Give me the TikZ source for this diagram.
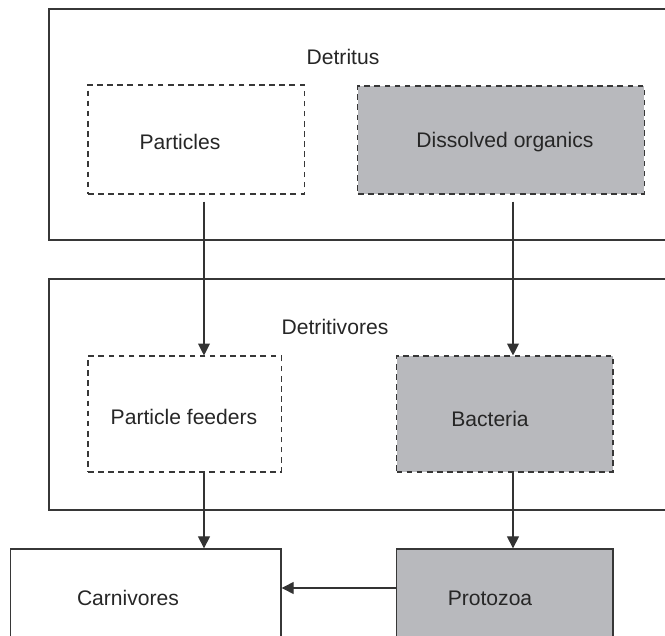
\documentclass[tikz,border=0pt]{standalone}
\usepackage{fontspec}
\setmainfont{Liberation Sans}
\usetikzlibrary{arrows.meta, positioning}
\definecolor{boxgray}{RGB}{184,185,189}
\definecolor{edgegray}{RGB}{55,55,55}

\tikzset{
    groupbox/.style={draw=edgegray, line width=0.9pt, inner sep=0pt},
    dashbox/.style={draw=edgegray, line width=0.75pt, dash pattern=on 4pt off 3.2pt, inner sep=0pt},
    shadebox/.style={dashbox, fill=boxgray},
    solidbox/.style={draw=edgegray, line width=0.9pt, inner sep=0pt},
    lbl/.style={font=\fontsize{15}{18}\selectfont, text=black!85, inner sep=1pt},
    flow/.style={-{Triangle[length=8.5pt, width=8.5pt]}, line width=0.8pt, black!80}
}

\begin{document}
\begin{tikzpicture}[x=0.025cm, y=-0.025cm]
    \useasboundingbox (0,0) rectangle (665,636);
    \clip (0,0) rectangle (665,636);

    % Outer groups
    \node[groupbox, minimum width=16.275cm, minimum height=5.775cm] (detritus) at (374.5,124.5) {};
    \node[groupbox, minimum width=16.275cm, minimum height=5.775cm] (detritivores) at (374.5,394.5) {};

    % Inner boxes
    \node[dashbox, minimum width=5.4cm, minimum height=2.725cm] (particles) at (196,139.5) {};
    \node[shadebox, minimum width=7.15cm, minimum height=2.7cm] (dissolved) at (501,140) {};
    \node[dashbox, minimum width=4.825cm, minimum height=2.9cm] (feeders) at (184.5,414) {};
    \node[shadebox, minimum width=5.41cm, minimum height=2.9cm] (bacteria) at (504.75,414) {};
    \node[solidbox, minimum width=6.7625cm, minimum height=2.775cm] (carnivores) at (145.75,604.5) {};
    \node[solidbox, fill=boxgray, minimum width=5.41cm, minimum height=2.775cm] (protozoa) at (504.75,604.5) {};

    % Labels
    \node[lbl] (detrituslbl) at (343,57) {Detritus};
    \node[lbl] (detritivoreslbl) at (335,327) {Detritivores};
    \node[lbl] (particleslbl) at (180,142) {Particles};
    \node[lbl] (dissolvedlbl) at (505,142) {Dissolved organics};
    \node[lbl] (feederslbl) at (184,417) {Particle feeders};
    \node[lbl] (bacterialbl) at (490,419) {Bacteria};
    \node[lbl] (carnivoreslbl) at (128,598) {Carnivores};
    \node[lbl] (protozoalbl) at (490,598) {Protozoa};

    % Flow lines
    \coordinate (leftx) at (204,0);
    \coordinate (rightx) at (513,0);
    \coordinate (crossy) at (0,588);
    \draw[flow] (particles.south -| leftx) ++(0,7) -- (feeders.north -| leftx);
    \draw[flow] (dissolved.south -| rightx) ++(0,7) -- (bacteria.north -| rightx);
    \draw[flow] (feeders.south -| leftx) -- (carnivores.north -| leftx);
    \draw[flow] (bacteria.south -| rightx) -- (protozoa.north -| rightx);
    \draw[flow] (protozoa.west |- crossy) -- (carnivores.east |- crossy);
\end{tikzpicture}
\end{document}
